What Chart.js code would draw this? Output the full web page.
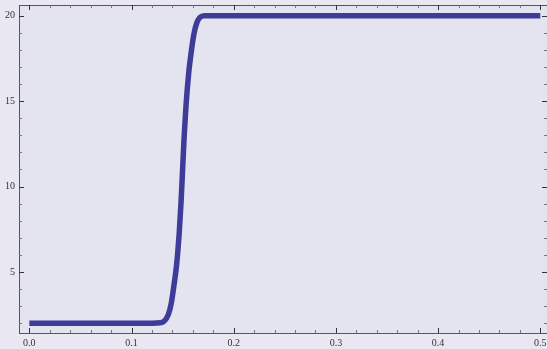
<!DOCTYPE html>
<html>
<head>
<meta charset="utf-8">
<script src="https://cdn.jsdelivr.net/npm/chart.js@4.4.0/dist/chart.umd.min.js"></script>
<style>
  html, body { margin: 0; padding: 0; background: #e9e8f2; }
  #wrap { width: 547px; height: 349px; }
</style>
</head>
<body>
<div id="wrap"><canvas id="stepChart" width="547" height="349"></canvas></div>
<script>
// values
var xValues = [0, 0.05, 0.1, 0.12, 0.128, 0.132, 0.136, 0.139, 0.1415, 0.1441, 0.1467, 0.1485,
               0.150, 0.1515, 0.1533, 0.1559, 0.1585, 0.161, 0.164, 0.167, 0.171, 0.18, 0.3, 0.5];
var yValues = [2, 2, 2, 2, 2.02, 2.12, 2.5, 3.2, 4.2, 5.4, 7.3, 9.1,
               11, 12.9, 14.7, 16.6, 17.9, 18.9, 19.6, 19.9, 20, 20, 20, 20];
var xTicks = [0, 0.1, 0.2, 0.3, 0.4, 0.5];
var xTickLabels = ['0.0', '0.1', '0.2', '0.3', '0.4', '0.5'];
var yTicks = [5, 10, 15, 20];
var xMinorStep = 0.02;
var yMinorStep = 1;

var points = xValues.map(function(x, i) { return { x: x, y: yValues[i] }; });

// Mathematica-style frame with inward ticks on all four sides
var frameTicks = {
    id: 'frameTicks',
    beforeDraw: function(chart) {
        var c = chart.ctx, a = chart.chartArea;
        c.save();
        c.fillStyle = '#e4e3f0';
        c.fillRect(a.left, a.top, a.right - a.left, a.bottom - a.top);
        c.restore();
    },
    afterDatasetsDraw: function(chart) {
        var c = chart.ctx, a = chart.chartArea;
        var xs = chart.scales.x, ys = chart.scales.y;
        c.save();
        c.strokeStyle = '#555';
        c.lineWidth = 1;
        c.strokeRect(a.left + 0.5, a.top + 0.5, a.right - a.left, a.bottom - a.top);

        function line(x1, y1, x2, y2, col) {
            c.strokeStyle = col;
            c.beginPath();
            c.moveTo(x1, y1);
            c.lineTo(x2, y2);
            c.stroke();
        }
        var v, px, py, major;
        for (v = 0; v <= 0.5 + 1e-9; v += xMinorStep) {
            px = Math.round(xs.getPixelForValue(v)) + 0.5;
            major = Math.abs(v * 10 - Math.round(v * 10)) < 1e-6;
            var len = major ? 5 : 3;
            var col = major ? '#333' : '#777';
            line(px, a.bottom, px, a.bottom - len, col);
            line(px, a.top, px, a.top + len, col);
        }
        for (v = 2; v <= 20; v += yMinorStep) {
            py = Math.round(ys.getPixelForValue(v)) + 0.5;
            major = v % 5 === 0;
            var len2 = major ? 5 : 3;
            var col2 = major ? '#333' : '#777';
            line(a.left, py, a.left + len2, py, col2);
            line(a.right, py, a.right - len2, py, col2);
        }
        c.restore();
    }
};

new Chart(document.getElementById('stepChart').getContext('2d'), {
    type: 'line',
    data: {
        datasets: [{
            data: points,
            borderColor: 'rgb(61, 61, 153)',
            borderWidth: 5.5,
            pointRadius: 0,
            fill: false,
            cubicInterpolationMode: 'monotone'
        }]
    },
    options: {
        responsive: false,
        animation: false,
        layout: { padding: { top: 5, right: 0, left: 0, bottom: 0 } },
        plugins: {
            legend: { display: false },
            tooltip: { enabled: false }
        },
        scales: {
            x: {
                type: 'linear',
                min: -0.0101,
                max: 0.5066,
                grid: { display: false, drawTicks: false },
                border: { display: false },
                afterBuildTicks: function(scale) {
                    scale.ticks = xTicks.map(function(v) { return { value: v }; });
                },
                afterFit: function(scale) {
                    scale.height = 16;
                    scale.paddingLeft = 0;
                    scale.paddingRight = 0;
                },
                ticks: {
                    autoSkip: false,
                    maxRotation: 0,
                    padding: 4,
                    color: '#333',
                    font: { family: 'Liberation Serif', size: 10 },
                    callback: function(v) {
                        var i = xTicks.indexOf(v);
                        return i >= 0 ? xTickLabels[i] : '';
                    }
                }
            },
            y: {
                min: 1.426,
                max: 20.627,
                grid: { display: false, drawTicks: false },
                border: { display: false },
                afterBuildTicks: function(scale) {
                    scale.ticks = yTicks.map(function(v) { return { value: v }; });
                },
                afterFit: function(scale) {
                    scale.width = 19;
                    scale.paddingTop = 0;
                    scale.paddingBottom = 0;
                },
                ticks: {
                    autoSkip: false,
                    padding: 4,
                    color: '#333',
                    font: { family: 'Liberation Serif', size: 10 }
                }
            }
        }
    },
    plugins: [frameTicks]
});
</script>
</body>
</html>
